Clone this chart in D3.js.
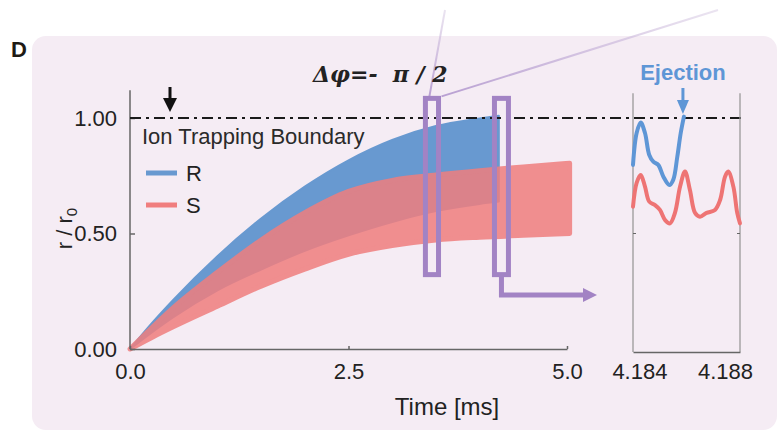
<!DOCTYPE html>
<html>
<head>
<meta charset="utf-8">
<script src="https://cdn.jsdelivr.net/npm/d3@7"></script>
<style>
  body { margin: 0; background: #fff; }
  svg { display: block; font-family: "Liberation Sans", Arial, sans-serif; }
  .axis path, .axis line { stroke: #666; stroke-width: 1.5; }
  .axis text { font-size: 22px; fill: #222; font-family: "Liberation Sans", Arial, sans-serif; }
</style>
</head>
<body>
<div id="chart"></div>
<script>
// band for R (blue): time [ms], upper / lower r/r0
var rTime = [0, 0.25, 0.5, 1.0, 1.5, 2.0, 2.5, 3.0, 3.5, 4.0, 4.22];
var rUpper = [0, 0.112, 0.215, 0.402, 0.565, 0.703, 0.817, 0.905, 0.965, 0.998, 1.01];
var rLower = [0, 0.072, 0.139, 0.254, 0.344, 0.425, 0.492, 0.55, 0.597, 0.628, 0.638];

// band for S (red)
var sTime = [0, 0.25, 0.5, 1.0, 1.5, 2.0, 2.5, 3.0, 3.5, 4.0, 4.5, 5.03];
var sUpper = [0, 0.092, 0.18, 0.332, 0.472, 0.59, 0.682, 0.73, 0.753, 0.772, 0.788, 0.804];
var sLower = [0, 0.05, 0.097, 0.185, 0.272, 0.346, 0.41, 0.448, 0.472, 0.484, 0.492, 0.50];

// inset traces around ejection
var insetRTime = [4.1837, 4.18387, 4.18406, 4.18426, 4.18446, 4.18465, 4.18488, 4.18512, 4.18540, 4.18558, 4.18577, 4.18593, 4.18608];
var insetR = [0.797, 0.935, 0.980, 0.935, 0.840, 0.811, 0.797, 0.746, 0.710, 0.732, 0.832, 0.935, 1.006];
var insetSTime = [4.1837, 4.18387, 4.18406, 4.18426, 4.18446, 4.18473, 4.18496, 4.18520, 4.18543, 4.18566, 4.18590, 4.18613, 4.18636, 4.18660, 4.18683, 4.18714, 4.18753, 4.18777, 4.18800, 4.18815, 4.18839, 4.18857, 4.1887];
var insetS = [0.616, 0.719, 0.753, 0.703, 0.638, 0.623, 0.602, 0.558, 0.544, 0.589, 0.703, 0.768, 0.688, 0.589, 0.573, 0.589, 0.602, 0.645, 0.746, 0.768, 0.703, 0.589, 0.544];

var xTicks = [0, 2.5, 5.0];
var yTicks = [0, 0.5, 1.0];
var insetTicks = [4.184, 4.188];
var boundary = 1.0;

// zoom windows drawn on the main plot (time range, r range)
var windowT0 = [3.38, 4.17];
var windowT1 = [3.53, 4.33];
var windowR = [0.322, 1.085];

(function() {
	var width = 778, height = 434;
	var blue = "#6899d0", red = "#f07e7e", purple = "#a283c4";

	var svg = d3.select("#chart")
		.append("svg")
		.attr("width", width)
		.attr("height", height);

	// panel background
	svg.append("rect")
		.attr("x", 32).attr("y", 36)
		.attr("width", 745).attr("height", 394)
		.attr("rx", 14)
		.attr("fill", "#f5ecf4");

	svg.append("text")
		.attr("x", 11).attr("y", 57)
		.text("D")
		.attr("style", "font-size: 22px; font-weight: bold; fill: #1e1a14");

	var xPositionScale = d3.scaleLinear().domain([0, 5]).range([130, 567]);
	var yPositionScale = d3.scaleLinear().domain([0, 1]).range([349, 118]);
	var insetX = d3.scaleLinear().domain([4.1837, 4.1887]).range([633, 740]);

	var defs = svg.append("defs");
	var grad = defs.append("linearGradient")
		.attr("id", "fade")
		.attr("gradientUnits", "userSpaceOnUse")
		.attr("x1", 0).attr("y1", 97).attr("x2", 0).attr("y2", 10);
	grad.append("stop").attr("offset", 0).attr("stop-color", "#b89fd2").attr("stop-opacity", 1);
	grad.append("stop").attr("offset", 1).attr("stop-color", "#d6c8e2").attr("stop-opacity", 0.5);

	// thin lines from the first window up to the (off-picture) zoom
	svg.append("line")
		.attr("x1", xPositionScale(windowT0[0]) + 4).attr("y1", yPositionScale(windowR[1]) - 2)
		.attr("x2", 445).attr("y2", 10)
		.attr("stroke", "url(#fade)").attr("stroke-width", 2);
	svg.append("line")
		.attr("x1", xPositionScale(windowT1[0]) + 3).attr("y1", yPositionScale(windowR[1]) - 2)
		.attr("x2", 718).attr("y2", 10)
		.attr("stroke", "url(#fade)").attr("stroke-width", 2);

	var rBand = rTime.map(function(t, i) { return { t: t, lo: rLower[i], hi: rUpper[i] }; });
	var sBand = sTime.map(function(t, i) { return { t: t, lo: sLower[i], hi: sUpper[i] }; });

	var area = d3.area()
		.x(function(d) { return xPositionScale(d.t) })
		.y0(function(d) { return yPositionScale(d.lo) })
		.y1(function(d) { return yPositionScale(d.hi) })
		.curve(d3.curveMonotoneX);

	svg.append("path")
		.datum(rBand)
		.attr("d", area)
		.attr("fill", blue)
		.attr("stroke", blue)
		.attr("stroke-width", 2)
		.attr("stroke-linejoin", "round");

	svg.append("g")
		.attr("opacity", 0.85)
		.append("path")
		.datum(sBand)
		.attr("d", area)
		.attr("fill", red)
		.attr("stroke", red)
		.attr("stroke-width", 5)
		.attr("stroke-linejoin", "round");

	// axes
	var xAxis = d3.axisBottom(xPositionScale)
		.tickValues(xTicks)
		.tickFormat(d3.format(".1f"))
		.tickSizeInner(-3)
		.tickSizeOuter(0)
		.tickPadding(14);
	svg.append("g")
		.attr("class", "axis x-axis")
		.attr("transform", "translate(0," + yPositionScale(0) + ")")
		.call(xAxis);

	var yAxis = d3.axisLeft(yPositionScale)
		.tickValues(yTicks)
		.tickFormat(d3.format(".2f"))
		.tickSizeInner(-5)
		.tickSizeOuter(0)
		.tickPadding(13);
	var yG = svg.append("g")
		.attr("class", "axis y-axis")
		.attr("transform", "translate(" + xPositionScale(0) + ",0)")
		.call(yAxis);
	yG.select(".domain").remove();
	yG.append("line")
		.attr("y1", yPositionScale(0)).attr("y2", yPositionScale(1.12))
		.attr("stroke", "#666").attr("stroke-width", 1.5);

	svg.append("text")
		.attr("transform", "translate(72," + (yPositionScale(0.5) - 5) + ") rotate(-90)")
		.attr("text-anchor", "middle")
		.attr("style", "font-size: 22px; fill: #222")
		.html('r / r<tspan dy="5" font-size="15">0</tspan>');

	svg.append("text")
		.attr("x", 447).attr("y", 415)
		.attr("text-anchor", "middle")
		.text("Time [ms]")
		.attr("style", "font-size: 24px; fill: #222");

	// trapping boundary
	svg.append("line")
		.attr("x1", xPositionScale(0)).attr("x2", insetX(4.1887) + 3)
		.attr("y1", yPositionScale(boundary)).attr("y2", yPositionScale(boundary))
		.attr("stroke", "#1a1a1a")
		.attr("stroke-width", 2)
		.attr("stroke-dasharray", "11,5,3,5");

	// black arrow pointing to boundary
	svg.append("line")
		.attr("x1", 170).attr("x2", 170).attr("y1", 87).attr("y2", 102)
		.attr("stroke", "#111").attr("stroke-width", 3);
	svg.append("path")
		.attr("d", "M163,98 L177,98 L170,112 Z")
		.attr("fill", "#111");

	// legend
	svg.append("text")
		.attr("x", 142).attr("y", 144)
		.text("Ion Trapping Boundary")
		.attr("style", "font-size: 22px; fill: #2a2a2a");

	var legendItems = [["R", blue], ["S", red]];
	legendItems.forEach(function(item, i) {
		var ly = 173 + i * 32;
		svg.append("line")
			.attr("x1", 146).attr("x2", 177)
			.attr("y1", ly).attr("y2", ly)
			.attr("stroke", item[1]).attr("stroke-width", 5);
		svg.append("text")
			.attr("x", 186).attr("y", ly + 8)
			.text(item[0])
			.attr("style", "font-size: 22px; fill: #222");
	});

	// title
	svg.append("text")
		.attr("x", 313).attr("y", 82)
		.text("\u0394\u03c6=-  \u03c0 / 2")
		.attr("style", "font-family: 'DejaVu Serif', serif; font-size: 22px; font-weight: bold; font-style: italic; fill: #222; white-space: pre");

	// zoom windows
	windowT0.forEach(function(t0, i) {
		svg.append("rect")
			.attr("x", xPositionScale(t0))
			.attr("y", yPositionScale(windowR[1]))
			.attr("width", xPositionScale(windowT1[i]) - xPositionScale(t0))
			.attr("height", yPositionScale(windowR[0]) - yPositionScale(windowR[1]))
			.attr("fill", "none")
			.attr("stroke", purple)
			.attr("stroke-width", 5);
	});

	// elbow arrow to inset
	var ex = (xPositionScale(windowT0[1]) + xPositionScale(windowT1[1])) / 2;
	svg.append("path")
		.attr("d", "M" + ex + "," + (yPositionScale(windowR[0]) + 2) + " V295 H586")
		.attr("fill", "none")
		.attr("stroke", purple)
		.attr("stroke-width", 5);
	svg.append("path")
		.attr("d", "M583,288 L597,295 L583,302 Z")
		.attr("fill", purple);

	// inset frame
	var ix = insetX.range();
	[ix[0], ix[1]].forEach(function(x) {
		svg.append("line")
			.attr("x1", x).attr("x2", x)
			.attr("y1", yPositionScale(1.107)).attr("y2", 352)
			.attr("stroke", "#9a9a9a").attr("stroke-width", 1.3);
		svg.append("line")
			.attr("x1", x).attr("x2", x + (x === ix[0] ? 3 : -3))
			.attr("y1", yPositionScale(0.5)).attr("y2", yPositionScale(0.5))
			.attr("stroke", "#666").attr("stroke-width", 1);
	});

	var insetAxis = d3.axisBottom(insetX)
		.tickValues(insetTicks)
		.tickFormat(d3.format(".3f"))
		.tickSize(0)
		.tickPadding(11);
	svg.append("g")
		.attr("class", "axis inset-axis")
		.attr("transform", "translate(0,352)")
		.call(insetAxis);

	var insetLine = d3.line()
		.x(function(d) { return insetX(d.t) })
		.y(function(d) { return yPositionScale(d.r) })
		.curve(d3.curveCatmullRom);

	svg.append("path")
		.datum(insetSTime.map(function(t, i) { return { t: t, r: insetS[i] }; }))
		.attr("d", insetLine)
		.attr("fill", "none")
		.attr("stroke", "#ee7474")
		.attr("stroke-width", 4)
		.attr("stroke-linecap", "round");

	svg.append("path")
		.datum(insetRTime.map(function(t, i) { return { t: t, r: insetR[i] }; }))
		.attr("d", insetLine)
		.attr("fill", "none")
		.attr("stroke", "#5e96d6")
		.attr("stroke-width", 4)
		.attr("stroke-linecap", "round");

	// ejection label
	var ejX = insetX(insetRTime[insetRTime.length - 1]) - 1;
	svg.append("text")
		.attr("x", ejX).attr("y", 80)
		.attr("text-anchor", "middle")
		.text("Ejection")
		.attr("style", "font-size: 22px; font-weight: bold; fill: #5e96d6");
	svg.append("line")
		.attr("x1", ejX).attr("x2", ejX).attr("y1", 88).attr("y2", 103)
		.attr("stroke", "#5e96d6").attr("stroke-width", 3);
	svg.append("path")
		.attr("d", "M" + (ejX - 6) + ",100 L" + (ejX + 6) + ",100 L" + ejX + ",114 Z")
		.attr("fill", "#5e96d6");
})();
</script>
</body>
</html>
